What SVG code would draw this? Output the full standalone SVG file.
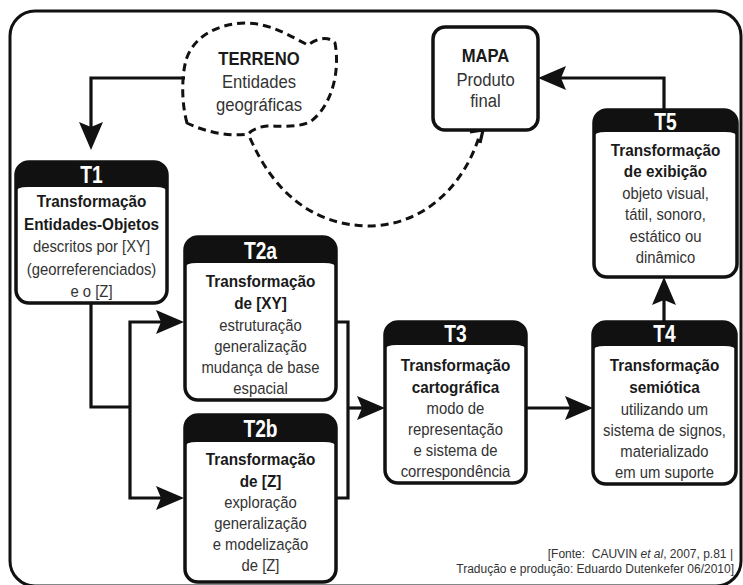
<svg xmlns="http://www.w3.org/2000/svg" width="743" height="585" viewBox="0 0 743 585">
<defs>
<style>
.frame{fill:none;stroke:#111;stroke-width:3}
.box{fill:#fff;stroke:#111;stroke-width:3.5}
.hdr{fill:#111}
.conn{fill:none;stroke:#111;stroke-width:3.2}
.dash{fill:none;stroke:#111;stroke-width:3;stroke-dasharray:8 5}
text{font-family:"Liberation Sans",Arial,sans-serif;text-anchor:middle}
.ht{font-weight:bold;font-size:24px;fill:#fff}
.b{font-weight:bold;font-size:17px;fill:#1a1a1a}
.r{font-size:16.5px;fill:#333}
.b2{font-weight:bold;font-size:18.5px;fill:#1a1a1a}
.r2{font-size:18.5px;fill:#333}
.foot{font-size:12px;fill:#333;text-anchor:end}
</style>
<marker id="ah" viewBox="0 0 28 24" refX="20" refY="12" markerWidth="28" markerHeight="24" markerUnits="userSpaceOnUse" orient="auto">
<path d="M0,0 L28,12 L0,24 L5,12 Z" fill="#111"/>
</marker>
</defs>
<rect width="743" height="585" fill="#fff"/>
<rect class="frame" x="10" y="11" width="731" height="575" rx="25"/>

<g id="connectors">
<path class="conn" d="M185,78 H91 V142" marker-end="url(#ah)"/>
<path class="conn" d="M91,303 V407 H130"/>
<path class="conn" d="M130,407 V322 H176" marker-end="url(#ah)"/>
<path class="conn" d="M130,407 V498 H176" marker-end="url(#ah)"/>
<path class="conn" d="M336,322 H348 V498 H336"/>
<path class="conn" d="M348,408 H377" marker-end="url(#ah)"/>
<path class="conn" d="M526,408 H585" marker-end="url(#ah)"/>
<path class="conn" d="M664,322 V285" marker-end="url(#ah)"/>
<path class="conn" d="M664,110 V78 H546" marker-end="url(#ah)"/>
<path class="dash" d="M250,138 C275,195 315,225 368,226 C420,226 462,190 479,137"/>
<path class="conn" d="M470,132 L483,130 L480,143" stroke-width="3"/>
</g>

<g id="terreno">
<path class="dash" d="M187,123 C182,105 181,80 186,60 C193,38 215,24 245,23 C270,23 290,36 308,45 C316,39 328,35 335,43 C340,70 333,105 310,122 C296,128 281,126 267,126 C258,127 252,130 248,134 C230,137 205,132 187,123 Z"/>
<g transform="translate(259,0) scale(0.9,1)">
<text class="b2" x="0" y="65">TERRENO</text>
<text class="r2" x="0" y="88">Entidades</text>
<text class="r2" x="0" y="111">geográficas</text>
</g>
</g>

<g id="mapa">
<rect class="box" x="433" y="27" width="105" height="103" rx="12"/>
<g transform="translate(485.5,0) scale(0.9,1)">
<text class="b2" x="0" y="62">MAPA</text>
<text class="r2" x="0" y="86">Produto</text>
<text class="r2" x="0" y="107">final</text>
</g>
</g>

<g id="t1">
<rect class="box" x="16" y="162" width="151" height="141" rx="13"/>
<path class="hdr" d="M16,192 V175 Q16,162 29,162 H154 Q167,162 167,175 V192 Q167,187 155,187 H28 Q16,187 16,192 Z"/>
<text class="ht" transform="translate(91.5,0) scale(0.8,1)" x="0" y="183.5">T1</text>
<g transform="translate(91.5,0) scale(0.9,1)">
<text class="b" x="0" y="207">Transformação</text>
<text class="b" x="0" y="230">Entidades-Objetos</text>
<text class="r" x="0" y="252">descritos por [XY]</text>
<text class="r" x="0" y="275">(georreferenciados)</text>
<text class="r" x="0" y="297">e o [Z]</text>
</g>
</g>

<g id="t2a">
<rect class="box" x="185" y="237" width="151" height="163" rx="13"/>
<path class="hdr" d="M185,268 V250 Q185,237 198,237 H323 Q336,237 336,250 V268 Q336,263 324,263 H197 Q185,263 185,268 Z"/>
<text class="ht" transform="translate(260.5,0) scale(0.8,1)" x="0" y="259">T2a</text>
<g transform="translate(260.5,0) scale(0.9,1)">
<text class="b" x="0" y="287">Transformação</text>
<text class="b" x="0" y="309">de [XY]</text>
<text class="r" x="0" y="331">estruturação</text>
<text class="r" x="0" y="352">generalização</text>
<text class="r" x="0" y="373">mudança de base</text>
<text class="r" x="0" y="394">espacial</text>
</g>
</g>

<g id="t2b">
<rect class="box" x="185" y="415" width="151" height="167" rx="13"/>
<path class="hdr" d="M185,447 V428 Q185,415 198,415 H323 Q336,415 336,428 V447 Q336,442 324,442 H197 Q185,442 185,447 Z"/>
<text class="ht" transform="translate(260.5,0) scale(0.8,1)" x="0" y="437">T2b</text>
<g transform="translate(260.5,0) scale(0.9,1)">
<text class="b" x="0" y="465">Transformação</text>
<text class="b" x="0" y="487">de [Z]</text>
<text class="r" x="0" y="508">exploração</text>
<text class="r" x="0" y="529">generalização</text>
<text class="r" x="0" y="550">e modelização</text>
<text class="r" x="0" y="571">de [Z]</text>
</g>
</g>

<g id="t3">
<rect class="box" x="385" y="322" width="141" height="161" rx="13"/>
<path class="hdr" d="M385,350 V335 Q385,322 398,322 H513 Q526,322 526,335 V350 Q526,345 514,345 H397 Q385,345 385,350 Z"/>
<text class="ht" transform="translate(455.5,0) scale(0.8,1)" x="0" y="342">T3</text>
<g transform="translate(455.5,0) scale(0.9,1)">
<text class="b" x="0" y="371">Transformação</text>
<text class="b" x="0" y="393">cartográfica</text>
<text class="r" x="0" y="414">modo de</text>
<text class="r" x="0" y="435">representação</text>
<text class="r" x="0" y="456">e sistema de</text>
<text class="r" x="0" y="477">correspondência</text>
</g>
</g>

<g id="t4">
<rect class="box" x="593" y="322" width="143" height="162" rx="13"/>
<path class="hdr" d="M593,351 V335 Q593,322 606,322 H723 Q736,322 736,335 V351 Q736,346 724,346 H605 Q593,346 593,351 Z"/>
<text class="ht" transform="translate(664.5,0) scale(0.8,1)" x="0" y="342">T4</text>
<g transform="translate(664.5,0) scale(0.9,1)">
<text class="b" x="0" y="371">Transformação</text>
<text class="b" x="0" y="393">semiótica</text>
<text class="r" x="0" y="415">utilizando um</text>
<text class="r" x="0" y="436">sistema de signos,</text>
<text class="r" x="0" y="457">materializado</text>
<text class="r" x="0" y="478">em um suporte</text>
</g>
</g>

<g id="t5">
<rect class="box" x="594" y="110" width="143" height="167" rx="13"/>
<path class="hdr" d="M594,137 V123 Q594,110 607,110 H724 Q737,110 737,123 V137 Q737,132 725,132 H606 Q594,132 594,137 Z"/>
<text class="ht" transform="translate(665.5,0) scale(0.8,1)" x="0" y="130">T5</text>
<g transform="translate(665.5,0) scale(0.9,1)">
<text class="b" x="0" y="156">Transformação</text>
<text class="b" x="0" y="177">de exibição</text>
<text class="r" x="0" y="199">objeto visual,</text>
<text class="r" x="0" y="220">tátil, sonoro,</text>
<text class="r" x="0" y="242">estático ou</text>
<text class="r" x="0" y="263">dinâmico</text>
</g>
</g>

<g id="fonte">
<text class="foot" x="733" y="558">[Fonte:&#160; CAUVIN <tspan font-style="italic">et al</tspan>, 2007, p.81 |</text>
<text class="foot" x="734" y="573">Tradução e produção: Eduardo Dutenkefer 06/2010]</text>
</g>
</svg>
